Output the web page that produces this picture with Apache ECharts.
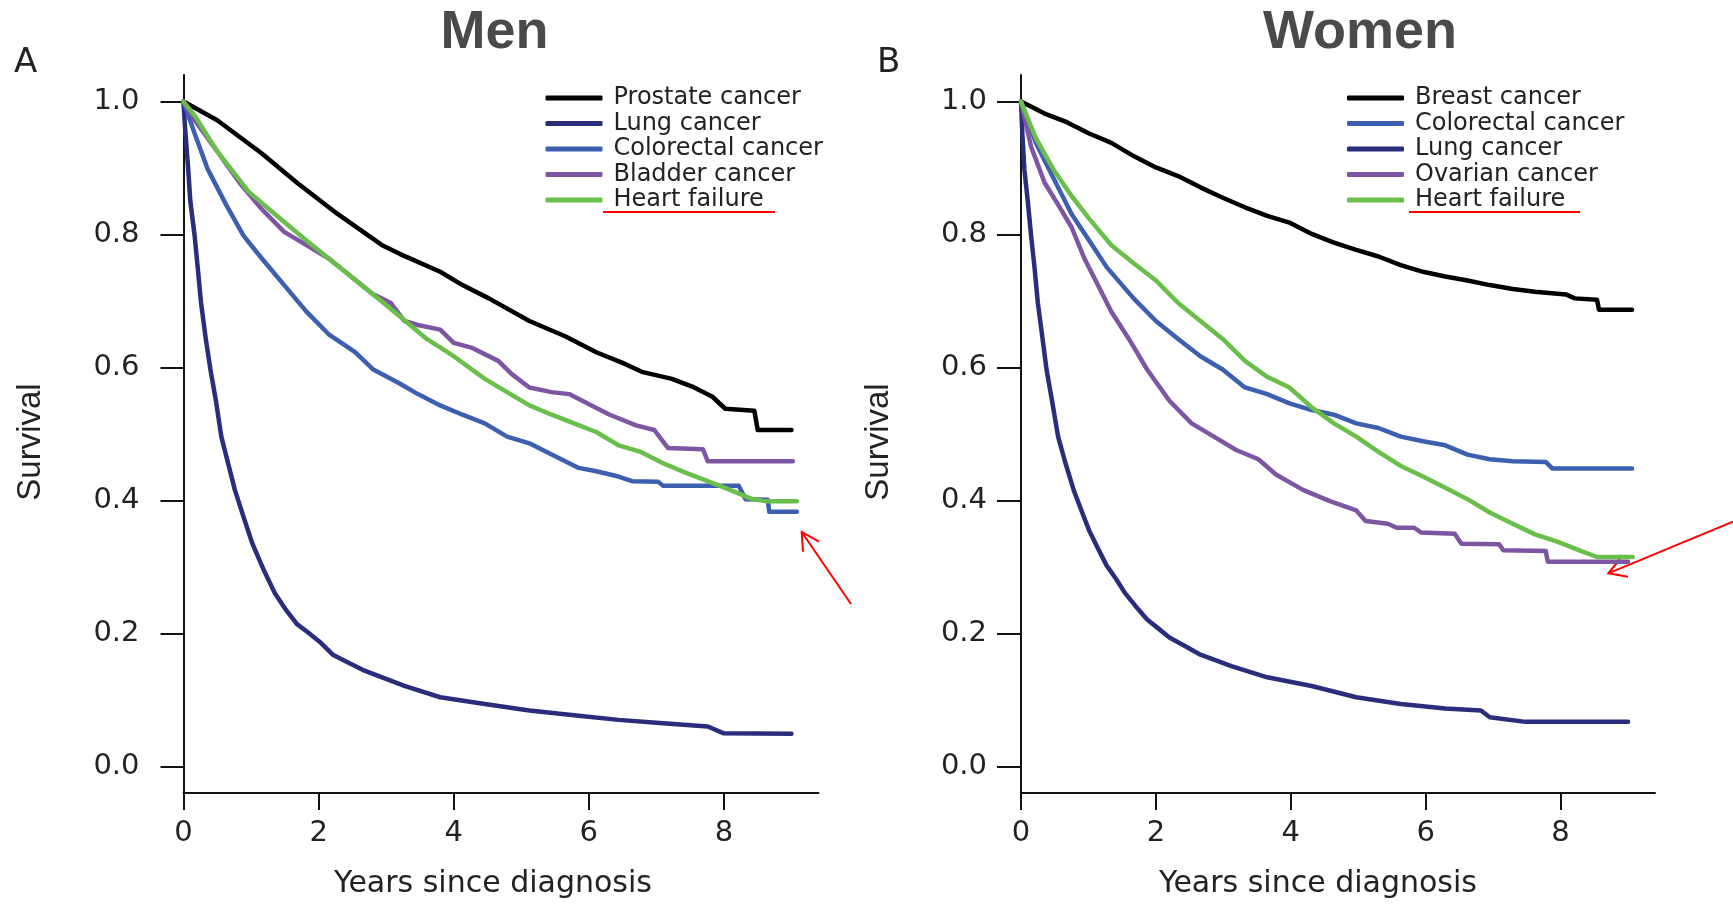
<!DOCTYPE html>
<html>
<head>
<meta charset="utf-8">
<script src="https://cdn.jsdelivr.net/npm/echarts@6/dist/echarts.min.js"></script>
<style>
html,body{margin:0;padding:0;background:#fff;}
#chart{width:1733px;height:904px;}
</style>
</head>
<body>
<div id="chart"></div>
<script>
// ---------- DATA (time in years, survival probability) ----------
const xTicks = [0, 2, 4, 6, 8];
const yTicks = [0, 0.2, 0.4, 0.6, 0.8, 1.0];

const menNames = ['Prostate cancer', 'Lung cancer', 'Colorectal cancer', 'Bladder cancer', 'Heart failure'];
const womenNames = ['Breast cancer', 'Colorectal cancer', 'Lung cancer', 'Ovarian cancer', 'Heart failure'];

const menProstate = [[0,1],[0.5,0.972],[1.16,0.922],[1.68,0.878],[2.28,0.831],[2.94,0.784],[3.2,0.771],[3.8,0.744],[4.13,0.724],[4.52,0.704],[5.12,0.670],[5.65,0.647],[6.11,0.623],[6.5,0.607],[6.8,0.593],[7.23,0.583],[7.56,0.570],[7.83,0.556],[8.02,0.538],[8.45,0.535],[8.5,0.506],[9.0,0.506]];
const menLung = [[0,1],[0.02,0.965],[0.07,0.898],[0.1,0.851],[0.165,0.798],[0.21,0.751],[0.26,0.697],[0.33,0.643],[0.4,0.596],[0.48,0.550],[0.56,0.496],[0.66,0.456],[0.76,0.416],[0.89,0.375],[1.02,0.335],[1.19,0.295],[1.35,0.261],[1.52,0.235],[1.68,0.214],[1.85,0.201],[2.01,0.188],[2.21,0.168],[2.48,0.154],[2.68,0.144],[2.94,0.134],[3.27,0.121],[3.8,0.104],[4.46,0.094],[5.12,0.084],[5.78,0.077],[6.44,0.070],[7.1,0.065],[7.76,0.060],[7.99,0.050],[9.0,0.049]];
const menColorectal = [[0,1],[0.165,0.952],[0.36,0.898],[0.63,0.845],[0.89,0.798],[1.16,0.764],[1.49,0.724],[1.82,0.684],[2.15,0.650],[2.54,0.623],[2.81,0.597],[3.2,0.576],[3.47,0.560],[3.8,0.543],[4.13,0.529],[4.46,0.516],[4.79,0.496],[5.12,0.486],[5.45,0.469],[5.85,0.449],[6.11,0.444],[6.44,0.436],[6.64,0.429],[7.03,0.428],[7.1,0.422],[8.22,0.422],[8.32,0.402],[8.65,0.401],[8.67,0.383],[9.08,0.383]];
const menBladder = [[0,1],[0.165,0.972],[0.5,0.925],[0.83,0.878],[1.16,0.838],[1.49,0.804],[1.82,0.784],[2.15,0.764],[2.48,0.737],[2.81,0.710],[3.07,0.697],[3.27,0.670],[3.47,0.664],[3.8,0.657],[4.0,0.637],[4.26,0.630],[4.66,0.610],[4.86,0.590],[5.12,0.570],[5.45,0.563],[5.71,0.560],[6.04,0.543],[6.31,0.529],[6.7,0.513],[6.97,0.506],[7.17,0.479],[7.69,0.477],[7.76,0.459],[9.02,0.459]];
const menHeart = [[0,1],[0.165,0.979],[0.5,0.925],[0.96,0.865],[1.35,0.831],[1.82,0.791],[2.15,0.764],[2.48,0.737],[2.81,0.710],[3.2,0.677],[3.6,0.643],[4.0,0.617],[4.46,0.583],[4.79,0.563],[5.12,0.543],[5.45,0.529],[5.78,0.516],[6.11,0.503],[6.44,0.483],[6.77,0.473],[7.1,0.456],[7.43,0.442],[7.76,0.429],[8.09,0.416],[8.42,0.402],[8.62,0.399],[9.08,0.399]];

const womenBreast = [[0,1],[0.35,0.982],[0.68,0.969],[1.01,0.952],[1.34,0.938],[1.67,0.918],[2.0,0.901],[2.33,0.888],[2.66,0.871],[3.0,0.855],[3.32,0.841],[3.65,0.828],[3.98,0.818],[4.31,0.801],[4.64,0.788],[4.97,0.777],[5.3,0.767],[5.63,0.754],[5.96,0.744],[6.29,0.737],[6.62,0.731],[6.95,0.724],[7.29,0.718],[7.62,0.714],[8.08,0.710],[8.21,0.704],[8.54,0.702],[8.57,0.687],[9.06,0.687]];
const womenColorectal = [[0,1],[0.22,0.938],[0.48,0.885],[0.75,0.831],[1.01,0.791],[1.27,0.751],[1.67,0.704],[2.0,0.670],[2.33,0.643],[2.66,0.617],[2.99,0.597],[3.32,0.570],[3.65,0.560],[3.98,0.546],[4.31,0.536],[4.64,0.529],[4.97,0.516],[5.3,0.509],[5.63,0.496],[5.96,0.489],[6.29,0.483],[6.62,0.469],[6.95,0.462],[7.29,0.459],[7.78,0.458],[7.88,0.448],[9.06,0.448]];
const womenLung = [[0,1],[0.02,0.952],[0.05,0.898],[0.1,0.851],[0.15,0.798],[0.2,0.751],[0.25,0.697],[0.32,0.643],[0.38,0.596],[0.46,0.550],[0.55,0.496],[0.66,0.456],[0.78,0.416],[0.88,0.389],[1.01,0.355],[1.14,0.328],[1.27,0.302],[1.41,0.282],[1.54,0.261],[1.70,0.241],[1.87,0.221],[2.03,0.208],[2.2,0.194],[2.43,0.181],[2.66,0.168],[3.12,0.151],[3.65,0.134],[4.31,0.121],[4.97,0.104],[5.63,0.094],[6.29,0.087],[6.82,0.084],[6.95,0.074],[7.48,0.067],[9.0,0.067]];
const womenOvarian = [[0,1],[0.15,0.932],[0.35,0.878],[0.55,0.845],[0.75,0.811],[0.94,0.764],[1.14,0.724],[1.34,0.684],[1.6,0.643],[1.87,0.597],[2.2,0.550],[2.53,0.516],[2.86,0.496],[3.19,0.476],[3.52,0.462],[3.78,0.439],[4.18,0.416],[4.58,0.399],[4.97,0.385],[5.11,0.369],[5.44,0.365],[5.57,0.359],[5.83,0.359],[5.93,0.352],[6.43,0.350],[6.53,0.335],[7.09,0.334],[7.15,0.325],[7.78,0.324],[7.81,0.308],[9.0,0.308]];
const womenHeart = [[0,1],[0.22,0.945],[0.48,0.898],[0.75,0.858],[1.01,0.824],[1.34,0.784],[1.67,0.757],[2.0,0.731],[2.33,0.697],[2.66,0.670],[2.99,0.643],[3.32,0.610],[3.65,0.586],[3.98,0.570],[4.31,0.540],[4.64,0.516],[4.97,0.496],[5.3,0.473],[5.63,0.452],[5.96,0.436],[6.29,0.419],[6.62,0.402],[6.95,0.382],[7.29,0.365],[7.62,0.349],[7.95,0.338],[8.28,0.325],[8.54,0.315],[9.07,0.315]];

// ---------- STYLE ----------
const C = {
  black: '#000000',
  lung: '#2a2d7c',
  colorectal: '#3d5fb0',
  purple: '#7e55a3',
  green: '#6abf4b'
};
const menColors = [C.black, C.lung, C.colorectal, C.purple, C.green];
const womenColors = [C.black, C.colorectal, C.lung, C.purple, C.green];
const menData = [menProstate, menLung, menColorectal, menBladder, menHeart];
const womenData = [womenBreast, womenColorectal, womenLung, womenOvarian, womenHeart];

const tickFont = 'DejaVu Sans';

function xAxisCfg(gridIndex, namePadRight) {
  return {
    type: 'value', gridIndex, min: 0, max: 9.4,
    name: 'Years since diagnosis', nameLocation: 'middle', nameGap: 76,
    nameTextStyle: { fontFamily: tickFont, fontSize: 30, color: '#222', padding: [0, namePadRight, 0, 0] },
    axisLine: { show: true, onZero: false, lineStyle: { color: '#111', width: 2 } },
    axisTick: { show: true, length: 17, customValues: xTicks, lineStyle: { color: '#111', width: 2 } },
    axisLabel: { customValues: xTicks, margin: 26, fontFamily: tickFont, fontSize: 29, color: '#222' },
    splitLine: { show: false }
  };
}
function yAxisCfg(gridIndex, labelMargin, tickLen, nameGap) {
  return {
    type: 'value', gridIndex, min: -0.04, max: 1.04,
    name: 'Survival', nameLocation: 'middle', nameGap: nameGap, nameRotate: 90,
    nameTextStyle: { fontFamily: 'Liberation Sans', fontSize: 33, color: '#222', padding: [0, 16, 0, 0] },
    axisLine: { show: true, onZero: false, lineStyle: { color: '#111', width: 2 } },
    axisTick: { show: true, length: tickLen, customValues: yTicks, lineStyle: { color: '#111', width: 2 } },
    axisLabel: { customValues: yTicks, margin: labelMargin, fontFamily: tickFont, fontSize: 29, color: '#222',
      padding: [5, 0, 0, 0], formatter: v => v.toFixed(1) },
    splitLine: { show: false }
  };
}

const series = [];
menNames.forEach((n, i) => series.push({
  name: n, type: 'line', xAxisIndex: 0, yAxisIndex: 0, data: menData[i],
  symbol: 'none', smooth: false, color: menColors[i],
  lineStyle: { width: 4.5, color: menColors[i], cap: 'round', join: 'round' }
}));
womenNames.forEach((n, i) => series.push({
  name: n, type: 'line', xAxisIndex: 1, yAxisIndex: 1, data: womenData[i],
  symbol: 'none', smooth: false, color: womenColors[i],
  lineStyle: { width: 4.5, color: womenColors[i], cap: 'round', join: 'round' }
}));

function legendCfg(left, names) {
  return {
    data: names, orient: 'vertical', left: left, top: 81,
    icon: 'roundRect', itemWidth: 57, itemHeight: 5, itemGap: 1.5,
    selectedMode: false,
    textStyle: { fontFamily: tickFont, fontSize: 24, color: '#222', padding: [0, 0, 0, 6] }
  };
}

const red = '#ff0000';
const option = {
  backgroundColor: '#ffffff',
  animation: false,
  grid: [
    { left: 183.5, top: 75, width: 635, height: 720 },
    { left: 1021, top: 75, width: 634, height: 720 }
  ],
  xAxis: [xAxisCfg(0, 16), xAxisCfg(1, 40)],
  yAxis: [yAxisCfg(0, 44, 23, 136.5), yAxisCfg(1, 34, 24, 126)],
  legend: [legendCfg(540.5, menNames), legendCfg(1342, womenNames)],
  series: series,
  graphic: [
    { type: 'text', x: 494.5, y: 6, style: { text: 'Men', fontFamily: 'Liberation Sans', fontWeight: 'bold', fontSize: 54, fill: '#4a4a4a', textAlign: 'center', textVerticalAlign: 'top' } },
    { type: 'text', x: 1360, y: 6, style: { text: 'Women', fontFamily: 'Liberation Sans', fontWeight: 'bold', fontSize: 54, fill: '#4a4a4a', textAlign: 'center', textVerticalAlign: 'top' } },
    { type: 'text', x: 14, y: 46, style: { text: 'A', fontFamily: 'DejaVu Sans', fontSize: 34, fill: '#222', textAlign: 'left', textVerticalAlign: 'top' } },
    { type: 'text', x: 877, y: 46, style: { text: 'B', fontFamily: 'DejaVu Sans', fontSize: 34, fill: '#222', textAlign: 'left', textVerticalAlign: 'top' } },
    // underlines under "Heart failure"
    { type: 'line', shape: { x1: 603, y1: 212, x2: 775, y2: 212 }, style: { stroke: red, lineWidth: 2 } },
    { type: 'line', shape: { x1: 1409, y1: 212, x2: 1580, y2: 212 }, style: { stroke: red, lineWidth: 2 } },
    // arrows
    { type: 'line', shape: { x1: 851, y1: 604, x2: 801.7, y2: 532 }, style: { stroke: red, lineWidth: 2 } },
    { type: 'polyline', shape: { points: [[819, 541.7], [801.7, 532], [803, 551.7]] }, style: { stroke: red, lineWidth: 2, fill: null } },
    { type: 'line', shape: { x1: 1733, y1: 521.7, x2: 1608.3, y2: 573.3 }, style: { stroke: red, lineWidth: 2 } },
    { type: 'polyline', shape: { points: [[1620, 559], [1608.3, 573.3], [1628, 576.7]] }, style: { stroke: red, lineWidth: 2, fill: null } }
  ]
};

const chart = echarts.init(document.getElementById('chart'), null, { renderer: 'canvas' });
chart.setOption(option);
</script>
</body>
</html>
